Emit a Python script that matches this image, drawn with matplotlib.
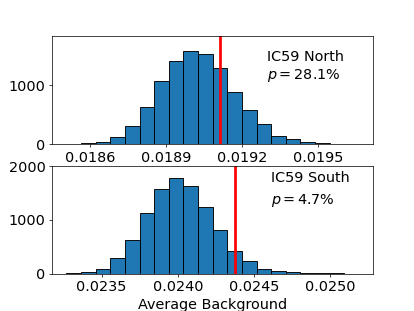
import matplotlib
matplotlib.use('Agg')
import matplotlib.pyplot as plt
import numpy as np

plt.rcParams['font.size'] = 16

# histogram counts (20 bins each)
north_range = (0.018507, 0.019661)
north_counts = [5, 15, 45, 118, 303, 629, 1062, 1399, 1579, 1517,
                1287, 882, 579, 337, 140, 84, 34, 15, 5, 2]
north_obs = 0.019111

south_range = (0.023270, 0.025187)
south_counts = [10, 25, 93, 298, 627, 1124, 1578, 1783, 1634, 1236,
                807, 416, 242, 93, 50, 22, 12, 6, 3, 1]
south_obs = 0.024374

fig, (ax1, ax2) = plt.subplots(2, 1, figsize=(6.4, 4.8), dpi=64.84)
fig.subplots_adjust(left=0.125, right=0.9, top=0.882, bottom=0.12, hspace=0.2)

# north
edges = np.linspace(north_range[0], north_range[1], len(north_counts) + 1)
centers = 0.5 * (edges[:-1] + edges[1:])
ax1.hist(centers, bins=edges, weights=north_counts, color='C0', edgecolor='black')
ax1.axvline(north_obs, color='red', lw=3)
ax1.set_ylim(0, 1815)
ax1.set_yticks([0, 1000])
ax1.set_xticks([0.0186, 0.0189, 0.0192, 0.0195])
ax1.text(0.67, 0.815, 'IC59 North', transform=ax1.transAxes, va='center')
ax1.text(0.67, 0.64, r'$p = 28.1\%$', transform=ax1.transAxes, va='center')

# south
edges = np.linspace(south_range[0], south_range[1], len(south_counts) + 1)
centers = 0.5 * (edges[:-1] + edges[1:])
ax2.hist(centers, bins=edges, weights=south_counts, color='C0', edgecolor='black')
ax2.axvline(south_obs, color='red', lw=3)
ax2.set_ylim(0, 2000)
ax2.set_yticks([0, 1000, 2000])
ax2.set_xticks([0.0235, 0.0240, 0.0245, 0.0250])
ax2.text(0.68, 0.885, 'IC59 South', transform=ax2.transAxes, va='center')
ax2.text(0.68, 0.68, r'$p = 4.7\%$', transform=ax2.transAxes, va='center')
ax2.set_xlabel('Average Background')

plt.savefig('out.png', dpi=64.84)
